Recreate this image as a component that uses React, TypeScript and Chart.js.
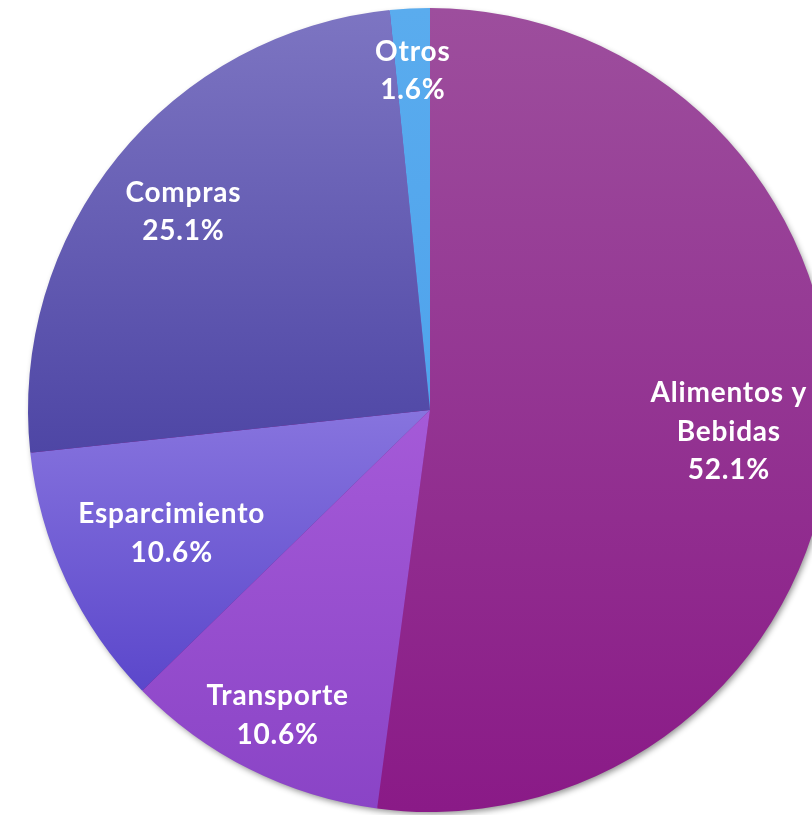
import React, { useEffect, useRef } from "react";
import { Chart, registerables } from "chart.js";

Chart.register(...registerables);

const categories: string[][] = [
  ["Alimentos y", "Bebidas"],
  ["Transporte"],
  ["Esparcimiento"],
  ["Compras"],
  ["Otros"],
];
const values: number[] = [52.1, 10.6, 10.6, 25.1, 1.6];

const topColors = ["#9d4e9d", "#a55ad8", "#8774de", "#7d75c2", "#5aacee"];
const bottomColors = ["#8a1a87", "#8a44c6", "#5b47cb", "#4e46a5", "#4fa3ec"];
const labelRadiusFactor = [0.745, 0.845, 0.71, 0.79, 0.85];

function sliceGradient(c: any) {
  const i = c.dataIndex;
  const chart = c.chart;
  const area = chart.chartArea;
  if (!area || c.type !== "data") return topColors[i];
  const cx = (area.left + area.right) / 2;
  const cy = (area.top + area.bottom) / 2;
  const r = Math.min(area.right - area.left, area.bottom - area.top) / 2;
  const total = values.reduce((a, b) => a + b, 0);
  let cum = 0;
  for (let k = 0; k < i; k++) cum += values[k];
  const a0 = -Math.PI / 2 + (2 * Math.PI * cum) / total;
  const a1 = a0 + (2 * Math.PI * values[i]) / total;
  const ys = [cy, cy + r * Math.sin(a0), cy + r * Math.sin(a1)];
  for (let k = -4; k <= 8; k++) {
    const a = (k * Math.PI) / 2;
    if (a > a0 && a < a1) ys.push(cy + r * Math.sin(a));
  }
  const ymin = Math.min(...ys);
  const ymax = Math.max(...ys);
  const g = chart.ctx.createLinearGradient(0, ymin, 0, ymax);
  g.addColorStop(0, topColors[i]);
  g.addColorStop(1, bottomColors[i]);
  return g;
}

const shadowPlugin = {
  id: "pieShadow",
  beforeDatasetsDraw(chart: any) {
    const arc = chart.getDatasetMeta(0).data[0];
    if (!arc) return;
    const ctx = chart.ctx;
    ctx.save();
    ctx.shadowColor = "rgba(0,0,0,0.45)";
    ctx.shadowBlur = 6;
    ctx.shadowOffsetX = 2;
    ctx.shadowOffsetY = 3;
    ctx.fillStyle = "#8a1a87";
    ctx.beginPath();
    ctx.arc(arc.x, arc.y, arc.outerRadius - 1, 0, Math.PI * 2);
    ctx.fill();
    ctx.restore();
  },
};

const labelPlugin = {
  id: "sliceLabels",
  afterDatasetsDraw(chart: any) {
    const ctx = chart.ctx;
    const meta = chart.getDatasetMeta(0);
    const total = values.reduce((a, b) => a + b, 0);
    ctx.save();
    ctx.fillStyle = "#ffffff";
    ctx.font = "bold 28px Lato, 'Open Sans', sans-serif";
    try {
      (ctx as any).letterSpacing = "0.8px";
    } catch (e) {}
    ctx.textAlign = "center";
    ctx.textBaseline = "middle";
    const lineH = 38.5;
    meta.data.forEach((arc: any, i: number) => {
      const mid = (arc.startAngle + arc.endAngle) / 2;
      const rr = arc.outerRadius * labelRadiusFactor[i];
      const x = arc.x + Math.cos(mid) * rr;
      const y = arc.y + Math.sin(mid) * rr + 2;
      const lines = [...categories[i], ((values[i] / total) * 100).toFixed(1) + "%"];
      const startY = y - ((lines.length - 1) * lineH) / 2;
      lines.forEach((t, k) => ctx.fillText(t, x, startY + k * lineH));
    });
    ctx.restore();
  },
};

export default function App() {
  const ref = useRef<HTMLCanvasElement | null>(null);
  useEffect(() => {
    if (!ref.current) return;
    const chart = new Chart(ref.current, {
      type: "pie",
      data: {
        labels: categories.map((c) => c.join(" ")),
        datasets: [
          {
            data: values,
            backgroundColor: sliceGradient as any,
            borderWidth: 0,
          },
        ],
      },
      options: {
        responsive: false,
        animation: false,
        layout: { padding: { top: 8, bottom: 3, left: 0, right: 0 } },
        plugins: {
          legend: { display: false },
          tooltip: { enabled: false },
        },
      },
      plugins: [shadowPlugin, labelPlugin],
    });
    return () => chart.destroy();
  }, []);
  return (
    <div
      style={{
        position: "fixed",
        left: 0,
        top: 0,
        width: 812,
        height: 815,
        overflow: "hidden",
        background: "#ffffff",
      }}
    >
      <canvas ref={ref} width={860} height={815} style={{ width: 860, height: 815, display: "block" }} />
    </div>
  );
}
